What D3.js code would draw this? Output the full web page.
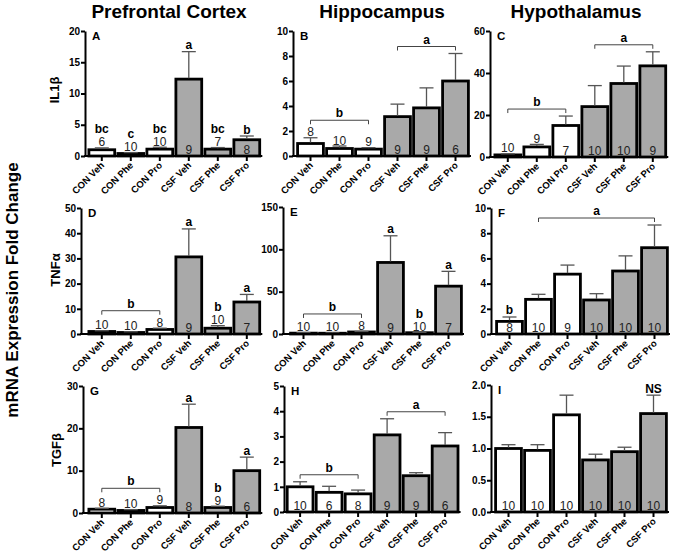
<!DOCTYPE html>
<html><head><meta charset="utf-8">
<script src="https://cdn.jsdelivr.net/npm/d3@7"></script>
<style>
body{margin:0;background:#fff}
svg{display:block}
text{font-family:"Liberation Sans",Arial,Helvetica,sans-serif}
</style>
</head><body>
<svg id="chart" width="673" height="556"></svg>
<script>
// ---------------- DATA ----------------
const groups = ["CON Veh","CON Phe","CON Pro","CSF Veh","CSF Phe","CSF Pro"];
const regions = ["Prefrontal Cortex","Hippocampus","Hypothalamus"];
const genes = ["IL1β","TNFα","TGFβ"];
const panelIds = ["A","B","C","D","E","F","G","H","I"];
const yLabel = "mRNA Expression Fold Change";

// means
const meanA = [1.0, 0.4, 1.1, 12.3, 1.1, 2.6];
const meanB = [1.0, 0.6, 0.55, 3.15, 3.85, 6.0];
const meanC = [1.0, 4.8, 15.0, 24.0, 35.0, 43.4];
const meanD = [1.0, 0.6, 1.8, 30.6, 2.3, 12.7];
const meanE = [1.0, 0.9, 2.4, 84.5, 1.5, 56.5];
const meanF = [1.0, 2.75, 4.75, 2.7, 5.0, 6.85];
const meanG = [0.9, 0.6, 1.3, 20.2, 1.3, 10.0];
const meanH = [1.0, 0.78, 0.72, 3.06, 1.44, 2.62];
const meanI = [1.0, 0.97, 1.53, 0.82, 0.95, 1.55];
// SEM (upper whisker)
const semA = [0.3, 0.15, 0.3, 4.4, 0.25, 0.6];
const semB = [0.46, 0.2, 0.12, 1.0, 1.6, 2.2];
const semC = [0.5, 1.2, 4.5, 10.0, 8.3, 6.7];
const semD = [0.3, 0.3, 0.5, 11.1, 1.0, 3.0];
const semE = [0.5, 0.4, 0.6, 31.5, 0.5, 17.5];
const semF = [0.35, 0.4, 0.72, 0.5, 1.2, 1.8];
const semG = [0.2, 0.2, 0.4, 5.5, 0.3, 3.2];
const semH = [0.2, 0.24, 0.15, 0.64, 0.12, 0.53];
const semI = [0.06, 0.09, 0.31, 0.09, 0.07, 0.29];
// sample sizes
const nA = [6, 10, 10, 9, 7, 8];
const nB = [8, 10, 9, 9, 9, 6];
const nC = [10, 9, 7, 10, 10, 9];
const nD = [10, 10, 8, 9, 10, 7];
const nE = [10, 10, 8, 9, 10, 7];
const nF = [8, 10, 9, 10, 10, 10];
const nG = [8, 10, 9, 8, 9, 6];
const nH = [10, 6, 8, 9, 9, 6];
const nI = [10, 10, 10, 10, 10, 10];
// significance letters over single bars
const lettersA = ["bc","c","bc","a","bc","b"];
const lettersB = ["","","","","",""];
const lettersC = ["","","","","",""];
const lettersD = ["","","","a","b","a"];
const lettersE = ["","","","a","b","a"];
const lettersF = ["b","","","","",""];
const lettersG = ["","","","a","b","a"];
const lettersH = ["","","","","",""];
const lettersI = ["","","","","","NS"];
// brackets: [firstBar, lastBar, letter]
const bracketsA = [];
const bracketsB = [[0,2,"b"],[3,5,"a"]];
const bracketsC = [[0,2,"b"],[3,5,"a"]];
const bracketsD = [[0,2,"b"]];
const bracketsE = [[0,2,"b"]];
const bracketsF = [[1,5,"a"]];
const bracketsG = [[0,2,"b"]];
const bracketsH = [[0,2,"b"],[3,5,"a"]];
const bracketsI = [];
// y axis ticks
const ticksA = [0,5,10,15,20];
const ticksB = [0,2,4,6,8,10];
const ticksC = [0,20,40,60];
const ticksD = [0,10,20,30,40,50];
const ticksE = [0,50,100,150];
const ticksF = [0,2,4,6,8,10];
const ticksG = [0,10,20,30];
const ticksH = [0,1,2,3,4,5];
const ticksI = [0,0.5,1.0,1.5,2.0];

const panels = [
  {mean:meanA, sem:semA, n:nA, letters:lettersA, brackets:bracketsA, ticks:ticksA, fmt:d3.format("d")},
  {mean:meanB, sem:semB, n:nB, letters:lettersB, brackets:bracketsB, ticks:ticksB, fmt:d3.format("d")},
  {mean:meanC, sem:semC, n:nC, letters:lettersC, brackets:bracketsC, ticks:ticksC, fmt:d3.format("d")},
  {mean:meanD, sem:semD, n:nD, letters:lettersD, brackets:bracketsD, ticks:ticksD, fmt:d3.format("d")},
  {mean:meanE, sem:semE, n:nE, letters:lettersE, brackets:bracketsE, ticks:ticksE, fmt:d3.format("d")},
  {mean:meanF, sem:semF, n:nF, letters:lettersF, brackets:bracketsF, ticks:ticksF, fmt:d3.format("d")},
  {mean:meanG, sem:semG, n:nG, letters:lettersG, brackets:bracketsG, ticks:ticksG, fmt:d3.format("d")},
  {mean:meanH, sem:semH, n:nH, letters:lettersH, brackets:bracketsH, ticks:ticksH, fmt:d3.format("d")},
  {mean:meanI, sem:semI, n:nI, letters:lettersI, brackets:bracketsI, ticks:ticksI, fmt:d3.format(".1f")}
];

// ---------------- LAYOUT ----------------
const layout = [
  {ax:85,  bx:87.3,  top:31,  y0:156},
  {ax:293, bx:296,   top:31,  y0:156},
  {ax:490, bx:493.3, top:31,  y0:157},
  {ax:81,  bx:87.3,  top:208, y0:334},
  {ax:283, bx:289,   top:207, y0:334},
  {ax:491, bx:495,   top:208, y0:334},
  {ax:83,  bx:87.3,  top:386, y0:513},
  {ax:284, bx:285.6, top:386, y0:512},
  {ax:491, bx:494,   top:385, y0:512}
];
const STEP = 29;
const titleX = [169, 382, 576];
const geneX = [59, 60, 61];
const geneY = [90, 270, 450];
const CON_FILL = "#ffffff", CSF_FILL = "#a9a9a9";

const svg = d3.select("#chart");

// column titles
svg.selectAll("text.title").data(regions).join("text")
  .attr("class","title")
  .attr("x",(d,i)=>titleX[i]).attr("y",18)
  .attr("text-anchor","middle")
  .attr("font-size","19px").attr("font-weight","bold")
  .text(d=>d);

// gene labels
svg.selectAll("text.gene").data(genes).join("text")
  .attr("class","gene")
  .attr("transform",(d,i)=>`translate(${geneX[i]},${geneY[i]}) rotate(-90)`)
  .attr("text-anchor","middle")
  .attr("font-size","13px").attr("font-weight","bold")
  .text(d=>d);

// big y label
svg.append("text")
  .attr("transform","translate(18,290) rotate(-90)")
  .attr("text-anchor","middle")
  .attr("font-size","17px").attr("font-weight","bold")
  .text(yLabel);

panels.forEach((p,pi)=>{
  const L = layout[pi];
  const x = d3.scaleBand().domain(groups)
    .range([L.bx, L.bx + STEP*groups.length])
    .paddingInner(0.11).paddingOuter(0.055);
  const y = d3.scaleLinear().domain([0, d3.max(p.ticks)]).range([L.y0, L.top]);
  const g = svg.append("g");
  const rows = groups.map((k,i)=>({k, i, m:p.mean[i], s:p.sem[i], n:p.n[i], let:p.letters[i]}));

  const underBracket = i => p.brackets.some(b=>i>=b[0] && i<=b[1]);
  rows.forEach(r=>{
    const h = L.y0 - y(r.m);
    r.inside = h >= 14 || (h >= 11 && !underBracket(r.i));
    r.errY = y(r.m + r.s);
    r.nY = r.inside ? L.y0 - 2.5 : r.errY - 1.5;
    r.topY = r.inside ? r.errY : r.nY - 9;
  });

  // bars
  g.selectAll("rect.bar").data(rows).join("rect")
    .attr("x", r=>x(r.k)).attr("width", x.bandwidth())
    .attr("y", r=>y(r.m)).attr("height", r=>L.y0 - y(r.m))
    .attr("fill", r=>r.i<3 ? CON_FILL : CSF_FILL)
    .attr("stroke","#000").attr("stroke-width",2.8);

  // error bars
  const cx = r=>x(r.k)+x.bandwidth()/2;
  g.selectAll("line.err").data(rows).join("line")
    .attr("x1",cx).attr("x2",cx).attr("y1",r=>y(r.m)-1).attr("y2",r=>r.errY)
    .attr("stroke","#555").attr("stroke-width",1.3);
  g.selectAll("line.cap").data(rows).join("line")
    .attr("x1",r=>cx(r)-7).attr("x2",r=>cx(r)+7).attr("y1",r=>r.errY).attr("y2",r=>r.errY)
    .attr("stroke","#555").attr("stroke-width",1.3);

  // n labels
  g.selectAll("text.n").data(rows).join("text")
    .attr("x",cx).attr("y",r=>r.nY)
    .attr("text-anchor","middle").attr("font-size","12px").attr("fill","#222")
    .text(r=>r.n);

  // letters over bars
  g.selectAll("text.let").data(rows.filter(r=>r.let)).join("text")
    .attr("x",cx).attr("y",r=>r.inside ? r.errY - 2.5 : r.nY - 13)
    .attr("text-anchor","middle").attr("font-size","12px").attr("font-weight","bold")
    .text(r=>r.let);

  // brackets
  p.brackets.forEach(b=>{
    const sub = rows.slice(b[0], b[1]+1);
    const by = d3.min(sub, r=>r.topY) - 7;
    const x1 = cx(rows[b[0]]), x2 = cx(rows[b[1]]);
    g.append("path")
      .attr("d",`M${x1},${by+4}V${by}H${x2}V${by+4}`)
      .attr("fill","none").attr("stroke","#444").attr("stroke-width",1);
    g.append("text").attr("x",(x1+x2)/2).attr("y",by-3)
      .attr("text-anchor","middle").attr("font-size","12px").attr("font-weight","bold")
      .text(b[2]);
  });

  // y axis
  const ya = g.append("g").attr("transform",`translate(${L.ax},0)`)
    .call(d3.axisLeft(y).tickValues(p.ticks).tickFormat(p.fmt).tickSize(4).tickSizeOuter(0));
  ya.select(".domain").attr("stroke-width",2);
  ya.selectAll(".tick line").attr("stroke-width",2);
  ya.selectAll(".tick text").attr("font-size","10px").attr("font-weight","bold")
    .attr("font-family","Liberation Sans, Arial, sans-serif").attr("x",-5);

  // x axis
  const xa = g.append("g").attr("transform",`translate(0,${L.y0})`)
    .call(d3.axisBottom(x).tickSize(5).tickSizeOuter(0));
  xa.select(".domain").remove();
  xa.selectAll(".tick line").attr("stroke-width",2);
  xa.selectAll(".tick text")
    .attr("font-size","9.5px").attr("font-weight","bold")
    .attr("font-family","Liberation Sans, Arial, sans-serif")
    .attr("x",0).attr("y",0).attr("dy",null)
    .attr("text-anchor","end")
    .attr("transform","translate(3,10) rotate(-45)");
  g.append("line").attr("x1",L.ax-1).attr("x2",L.bx+STEP*groups.length+1)
    .attr("y1",L.y0).attr("y2",L.y0).attr("stroke","#000").attr("stroke-width",2);

  // panel letter
  g.append("text").attr("x",L.ax+7).attr("y",L.top+8.5)
    .attr("font-size","11.5px").attr("font-weight","bold").text(panelIds[pi]);
});
</script>
</body></html>
